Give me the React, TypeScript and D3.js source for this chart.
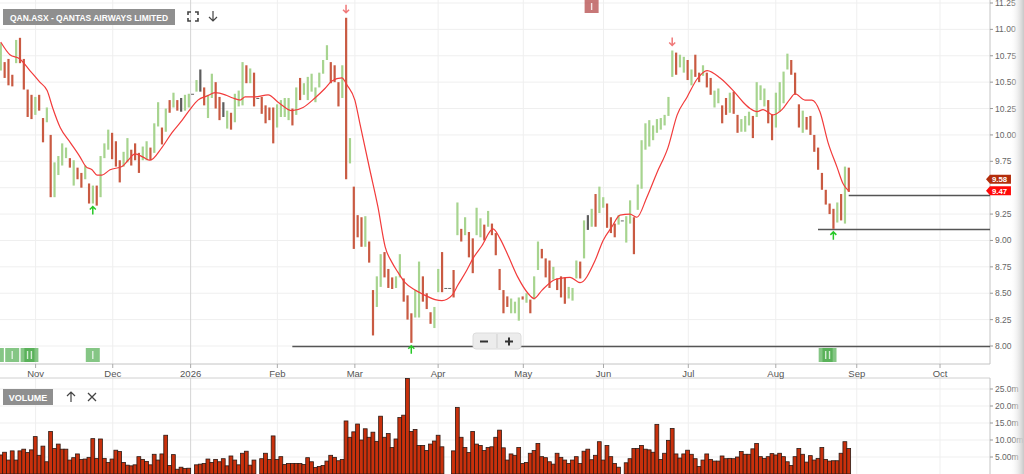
import React, { useEffect, useRef } from "react";
import * as d3 from "d3";

// one slot per trading day, null = no trade that day
const highs = [
  10.87, 10.69, 10.72, 10.57, 10.90, 10.92, 10.72, 10.43, 10.38, 10.36,
  10.38, 10.16, 10.26, 10.00, 9.74, 9.80, 9.92, 9.88, 9.78, 9.76,
  9.69, 9.64, 9.71, 9.54, 9.52, 9.52, 9.80, 9.92, 10.05, 10.02,
  9.94, 9.76, 9.84, 9.97, 9.86, 9.92, 9.83, 9.89, 9.94, 9.88,
  10.11, 10.31, 10.07, 10.25, 10.33, 10.40, 10.33, 10.35, 10.38, 10.39,
  10.39, 10.52, 10.62, 10.45, 10.38, 10.58, 10.50, 10.36, 10.31, 10.23,
  10.21, 10.39, 10.42, 10.69, 10.66, 10.63, 10.59, 10.35, 10.36, 10.28,
  10.26, 10.26, 10.29, 10.33, 10.35, 10.35, 10.25, 10.45, 10.54, 10.49,
  10.55, 10.58, 10.45, 10.59, 10.71, 10.85, 10.69, 10.66, 10.50, 10.66,
  11.11, 9.97, 9.51, 9.24, 9.22, 9.23, 8.99, 8.53, 8.66, 8.87,
  8.89, 8.73, 8.65, 8.66, 8.87, 8.64, 8.48, 8.31, 8.53, 8.80,
  8.66, 8.50, 8.32, 8.37, 8.73, 8.89, 8.55, 8.55, 8.72, 9.36,
  9.11, 9.22, 9.08, 9.02, 9.31, 9.21, 9.15, 9.28, 9.16, 9.07,
  8.73, 8.53, 8.47, 8.45, 8.42, 8.46, 8.47, 8.50, 8.44, 8.66,
  8.99, 8.92, 8.83, 8.81, 8.75, 8.64, 8.66, 8.65, 8.56, 8.55,
  8.81, 8.80, 9.19, 9.24, 9.30, 9.44, 9.51, 9.41, 9.35, 9.22,
  9.16, 9.24, 9.19, 9.23, 9.38, 9.22, 9.53, 9.95, 10.11, 10.14,
  10.09, 10.15, 10.16, 10.19, 10.36, 10.80, 10.78, 10.76, 10.74, 10.71,
  10.62, 10.76, 10.59, 10.66, 10.59, 10.54, 10.42, 10.44, 10.28, 10.35,
  10.40, 10.41, 10.19, 10.15, 10.18, 10.22, 10.18, 10.50, 10.47, 10.44,
  10.33, 10.19, 10.40, 10.50, 10.60, 10.77, 10.71, 10.59, 10.29, 10.23,
  10.17, 10.18, 10.00, 9.88, 9.64, 9.48, 9.35, 9.30, 9.36, 9.44,
  9.70, 9.69,
];

const lows = [
  10.61, 10.54, 10.47, 10.46, 10.68, 10.68, 10.43, 10.17, 10.15, 10.19,
  10.23, 9.93, 10.12, 9.41, 9.41, 9.62, 9.71, 9.78, 9.69, 9.52,
  9.58, 9.50, 9.58, 9.35, 9.35, 9.33, 9.41, 9.78, 9.86, 9.77,
  9.70, 9.55, 9.70, 9.74, 9.71, 9.76, 9.64, 9.76, 9.76, 9.76,
  9.83, 10.08, 9.91, 10.03, 10.21, 10.26, 10.23, 10.22, 10.23, 10.26,
  10.39, 10.41, 10.41, 10.28, 10.16, 10.35, 10.25, 10.14, 10.17, 10.06,
  10.05, 10.12, 10.27, 10.28, 10.49, 10.49, 10.27, 10.35, 10.20, 10.11,
  10.14, 9.92, 10.07, 10.17, 10.17, 10.14, 10.09, 10.19, 10.33, 10.38,
  10.33, 10.41, 10.31, 10.45, 10.58, 10.71, 10.49, 10.50, 10.27, 10.35,
  9.58, 9.73, 8.92, 9.03, 8.94, 8.94, 8.79, 8.10, 8.37, 8.56,
  8.65, 8.55, 8.54, 8.55, 8.65, 8.42, 8.25, 8.03, 8.27, 8.27,
  8.42, 8.35, 8.21, 8.17, 8.51, 8.51, 8.55, 8.55, 8.46, 9.05,
  8.99, 9.05, 8.84, 8.69, 9.05, 9.03, 9.00, 9.13, 9.05, 8.86,
  8.53, 8.31, 8.37, 8.31, 8.31, 8.24, 8.44, 8.41, 8.31, 8.44,
  8.72, 8.83, 8.65, 8.55, 8.63, 8.53, 8.46, 8.40, 8.45, 8.43,
  8.64, 8.64, 8.83, 9.10, 9.13, 9.13, 9.26, 9.31, 9.12, 9.07,
  9.03, 9.15, 9.19, 8.98, 9.16, 8.87, 9.29, 9.49, 9.86, 9.89,
  9.95, 10.02, 10.05, 10.09, 10.18, 10.55, 10.57, 10.64, 10.59, 10.52,
  10.47, 10.55, 10.50, 10.56, 10.45, 10.38, 10.26, 10.30, 10.11, 10.19,
  10.21, 10.20, 10.02, 10.03, 10.03, 10.09, 9.97, 10.17, 10.33, 10.27,
  10.11, 9.95, 10.07, 10.22, 10.30, 10.62, 10.57, 10.38, 10.07, 10.02,
  10.05, 10.00, 9.84, 9.67, 9.48, 9.34, 9.25, 9.11, 9.17, 9.19,
  9.16, 9.46,
];

// 1 up, -1 down, 0 unchanged, null no trade
const dirs = [
  1, -1, -1, -1, 1, -1, -1, -1, -1, 1,
  -1, -1, 1, -1, 1, 1, 1, 1, -1, 1,
  -1, -1, 1, -1, 1, -1, 1, 1, 1, -1,
  -1, -1, 1, 1, -1, -1, -1, 1, 1, -1,
  1, 1, -1, 1, -1, 1, -1, 0, 1, 1,
  null, 1, 0, -1, 1, 1, -1, -1, 0, 1,
  -1, 1, 1, 1, -1, 1, -1, null, -1, -1,
  -1, -1, 1, 1, 1, 1, -1, 1, -1, 1,
  1, 1, 1, 1, 1, 1, -1, -1, -1, 1,
  -1, 1, -1, -1, -1, 1, -1, -1, 1, 1,
  -1, -1, -1, 1, 1, -1, -1, -1, 1, 1,
  -1, -1, -1, 1, 1, -1, null, null, -1, 1,
  -1, 1, -1, -1, 1, 1, -1, 1, -1, -1,
  -1, -1, -1, 1, 1, 1, -1, 1, -1, 1,
  1, -1, -1, -1, 1, -1, -1, -1, 1, 1,
  1, -1, 1, 0, 1, -1, 1, 1, -1, -1,
  -1, 1, null, 1, 1, -1, 1, 1, 1, 1,
  1, 1, 1, 1, 1, 1, -1, 1, 1, -1,
  1, -1, -1, 1, -1, -1, 1, 1, -1, -1,
  1, -1, -1, 1, 1, 1, -1, 1, 1, 1,
  -1, -1, 1, 1, 1, 1, -1, -1, -1, 1,
  -1, -1, -1, -1, -1, -1, -1, -1, 1, -1,
  1, -1,
];

// millions of shares
const volumes = [
  5.6, 6.4, 4.1, 6.8, 4.1, 6.8, 7.3, 6.3, 7.1, 11.0,
  5.5, 8.2, 3.6, 12.5, 7.5, 8.8, 7.3, 7.3, 4.1, 4.8,
  5.9, 4.3, 4.4, 4.9, 10.4, 4.6, 10.3, 4.6, 3.4, 4.4,
  7.0, 6.6, 3.4, 2.6, 2.4, 2.7, 5.1, 4.3, 3.7, 2.7,
  5.8, 4.1, 5.9, 11.4, 2.5, 5.7, 1.4, 2.0, 1.6, 1.7,
  null, 2.7, 2.9, 3.1, 4.4, 3.4, 4.3, 3.6, 4.5, 2.4,
  5.3, 4.1, 2.7, 6.1, 6.7, 2.6, 4.1, null, 4.5, 6.1,
  4.3, 11.2, 4.3, 5.1, 2.8, 3.1, 3.1, 3.1, 3.1, 2.8,
  4.8, 3.6, 1.9, 2.2, 2.5, 3.8, 5.5, 4.9, 3.9, 4.3,
  15.6, 10.8, 12.4, 14.7, 10.0, 13.3, 10.8, 12.3, 9.6, 17.0,
  10.8, 11.9, 7.8, 10.3, 16.6, 17.3, 28.1, 12.5, 13.1, 8.4,
  8.4, 6.9, 8.8, 9.7, 11.4, 8.0, null, null, 6.8, 19.6,
  10.8, 7.8, 6.3, 12.5, 8.8, 8.4, 6.9, 7.8, 8.0, 10.8,
  12.9, 7.7, 4.1, 5.9, 5.5, 7.8, 3.1, 3.4, 6.1, 6.9,
  9.0, 5.1, 4.8, 3.6, 2.9, 6.1, 4.9, 4.1, 3.1, 4.1,
  5.1, 3.1, 6.7, 7.3, 4.2, 5.5, 9.5, 4.1, 8.4, 5.1,
  3.1, 2.0, null, 3.3, 4.5, 7.5, 7.5, 8.4, 7.3, 7.1,
  6.4, 14.6, 4.3, 6.1, 9.9, 13.4, 5.9, 4.7, 5.9, 7.0,
  5.8, 4.5, 2.2, 4.1, 5.9, 4.3, 3.8, 3.8, 5.3, 4.5,
  4.6, 4.5, 5.0, 6.6, 5.8, 5.8, 7.4, 9.0, 5.1, 4.6,
  5.1, 6.0, 5.6, 6.1, 5.1, 3.6, 2.5, 5.1, 7.5, 5.8,
  3.5, 5.4, 4.1, 4.6, 7.8, 4.3, 3.8, 3.9, 3.9, 6.1,
  9.5, 7.5,
];

// moving average line
const maIndex = [
  0, 2.4, 5, 7.6, 10.2, 12.1, 13.6, 15.5, 18.1, 20.7, 22.2, 23.8, 25.1, 26.4, 28.5,
  31.6, 33.2, 35, 37.1, 38.9, 42, 44.6, 47.3, 49.3, 51.4, 53.8, 55.9, 58.5, 60.5,
  62.4, 63.7, 66.3, 69.7, 72.3, 75.9, 78.8, 81.9, 84.5, 86.3, 88.9, 90.3, 92.3,
  93.6, 96.2, 98.3, 100.2, 102, 103.5, 105.4, 108, 110.6, 113.2, 115, 117.6, 119.2,
  121.5, 123.1, 125.4, 128.3, 130.1, 132.2, 134.8, 137.4, 139, 141.1, 144.5, 145.8,
  148.4, 151, 154.9, 157, 159.3, 161.4, 164, 165.8, 168.4, 171, 173.9, 176.3, 178.9,
  181.5, 184.1, 187.5, 190.9, 193.5, 195.3, 197.1, 198.7, 201.3, 203.6, 205.7, 207,
  209.6, 211.4, 213.5, 215.6, 218, 219.5, 221,
];
const maValue = [
  10.88, 10.76, 10.72, 10.61, 10.50, 10.42, 10.25, 10.07, 9.93, 9.79, 9.70, 9.67, 9.62, 9.62, 9.67,
  9.70, 9.76, 9.82, 9.79, 9.76, 9.88, 10.02, 10.14, 10.24, 10.33, 10.37, 10.40, 10.38, 10.35,
  10.33, 10.36, 10.36, 10.38, 10.31, 10.23, 10.26, 10.35, 10.44, 10.51, 10.54, 10.47, 10.33,
  10.11, 9.67, 9.32, 8.94, 8.79, 8.70, 8.60, 8.53, 8.48, 8.44, 8.43, 8.48, 8.58,
  8.72, 8.83, 8.95, 9.11, 9.02, 8.86, 8.65, 8.50, 8.45, 8.53, 8.63, 8.64,
  8.65, 8.60, 8.81, 9.00, 9.13, 9.24, 9.25, 9.22, 9.41, 9.64, 9.88, 10.19, 10.36,
  10.53, 10.61, 10.54, 10.42, 10.31, 10.25, 10.22, 10.24, 10.19, 10.24, 10.34, 10.39,
  10.33, 10.33, 10.22, 9.93, 9.69, 9.54, 9.47,
];

const lastClose = 9.58;

const monthLabels = ["Nov", "Dec", "2026", "Feb", "Mar", "Apr", "May", "Jun", "Jul", "Aug", "Sep", "Oct"];
const monthIndex = [9.1, 29.2, 49.5, 72.1, 92.3, 114, 136.2, 157.1, 179.2, 202, 223.1, 244.8];

const priceTicks = [8, 8.25, 8.5, 8.75, 9, 9.25, 9.5, 9.75, 10, 10.25, 10.5, 10.75, 11, 11.25];
const volumeTicks = [5, 10, 15, 20, 25];
const volumeTickLabels = ["5.00m", "10.00m", "15.0m", "20.0m", "25.0m"];

const upSignals = [24, 107, 217];
const downSignals = [90, 175];
const levelFrom = [76, 213, 221];
const levelPrice = [8.0, 9.11, 9.43];
const greenMarkers = [-1, 3, 7, 8, 24, 215, 216];
const redMarkers = [154];

const FONT = "'Liberation Sans', Arial, sans-serif";

const App = () => {
  const svgRef = useRef(null);

  useEffect(() => {
    const svg = d3.select(svgRef.current);
    svg.selectAll("*").remove();

    const axisX = 990;
    const priceBottom = 364;
    const volTop = 378;

    const x = d3.scaleLinear().domain([0, 221]).range([0.7, 848.7]);
    const y = d3.scaleLinear().domain([8, 11.25]).range([346, 3]);
    const yv = d3.scaleLinear().domain([0, 25]).range([474, 389]);
    const step = x(1) - x(0);

    const lastMa = maValue[maValue.length - 1];
    const tagValues = [lastClose, lastMa];

    const defs = svg.append("defs");
    const grad = defs.append("linearGradient").attr("id", "edge").attr("x1", 0).attr("x2", 1);
    grad.append("stop").attr("offset", 0).attr("stop-color", "#fff").attr("stop-opacity", 0);
    grad.append("stop").attr("offset", 1).attr("stop-color", "#c8c8c8").attr("stop-opacity", 1);
    defs.append("clipPath").attr("id", "pane").append("rect")
      .attr("x", 0).attr("y", 0).attr("width", axisX).attr("height", priceBottom);
    defs.append("clipPath").attr("id", "vpane").append("rect")
      .attr("x", 0).attr("y", volTop).attr("width", axisX).attr("height", 474 - volTop);

    svg.append("rect").attr("width", 1024).attr("height", 474).attr("fill", "#fff");

    // grid
    const grid = svg.append("g");
    grid.selectAll(".hg").data(priceTicks).join("line")
      .attr("class", "hg")
      .attr("x1", 0).attr("x2", axisX).attr("y1", (d) => y(d)).attr("y2", (d) => y(d))
      .attr("stroke", "#efefef");
    grid.selectAll(".vg").data(volumeTicks).join("line")
      .attr("class", "vg")
      .attr("x1", 0).attr("x2", axisX).attr("y1", (d) => yv(d)).attr("y2", (d) => yv(d))
      .attr("stroke", "#efefef");
    monthIndex.forEach((m, i) => {
      const c = monthLabels[i] === "2026" ? "#d4d4d4" : "#efefef";
      grid.append("line").attr("x1", x(m)).attr("x2", x(m)).attr("y1", 0).attr("y2", priceBottom).attr("stroke", c);
      grid.append("line").attr("x1", x(m)).attr("x2", x(m)).attr("y1", volTop).attr("y2", 474).attr("stroke", c);
    });

    // pane borders
    svg.append("line").attr("x1", 0).attr("x2", axisX).attr("y1", priceBottom).attr("y2", priceBottom).attr("stroke", "#c4c4c4");
    svg.append("line").attr("x1", 0).attr("x2", axisX).attr("y1", volTop).attr("y2", volTop).attr("stroke", "#d0d0d0");
    svg.append("line").attr("x1", axisX).attr("x2", axisX).attr("y1", 0).attr("y2", priceBottom).attr("stroke", "#c4c4c4");
    svg.append("line").attr("x1", axisX).attr("x2", axisX).attr("y1", volTop).attr("y2", 474).attr("stroke", "#c4c4c4");

    // support / resistance levels
    levelPrice.forEach((p, i) => {
      svg.append("line")
        .attr("x1", x(levelFrom[i])).attr("x2", axisX)
        .attr("y1", Math.round(y(p)) + 0.5).attr("y2", Math.round(y(p)) + 0.5)
        .attr("stroke", "#555").attr("stroke-width", 1.4);
    });

    // price bars
    const bars = d3.range(highs.length);
    const pg = svg.append("g").attr("clip-path", "url(#pane)");
    pg.selectAll(".bar").data(bars.filter((i) => dirs[i] !== null)).join("rect")
      .attr("class", "bar")
      .attr("x", (i) => x(i) - 1)
      .attr("width", 2.2)
      .attr("y", (i) => y(highs[i]))
      .attr("height", (i) => Math.max(1, y(lows[i]) - y(highs[i])))
      .attr("fill", (i) => (dirs[i] > 0 ? "#a7d48f" : dirs[i] < 0 ? "#c95a42" : "#5d5d5d"));
    pg.selectAll(".nt").data(bars.filter((i) => dirs[i] === null)).join("rect")
      .attr("class", "nt")
      .attr("x", (i) => x(i) - 1.5).attr("width", 3)
      .attr("y", (i) => y(highs[i])).attr("height", 1)
      .attr("fill", "#666");

    // moving average
    const maLine = d3.line<number>()
      .x((i) => x(maIndex[i]))
      .y((i) => y(maValue[i]))
      .curve(d3.curveMonotoneX);
    pg.append("path").attr("d", maLine(d3.range(maIndex.length)))
      .attr("fill", "none").attr("stroke", "#f23b3b").attr("stroke-width", 1.2);

    // signal arrows
    const arrow = (cx, cy, up, color) => {
      const d = up
        ? `M${cx},${cy + 4}V${cy - 4}M${cx - 3},${cy - 1}L${cx},${cy - 4}L${cx + 3},${cy - 1}`
        : `M${cx},${cy - 4}V${cy + 4}M${cx - 3},${cy + 1}L${cx},${cy + 4}L${cx + 3},${cy + 1}`;
      svg.append("path").attr("d", d).attr("fill", "none").attr("stroke", color).attr("stroke-width", 1.5);
    };
    upSignals.forEach((i) => arrow(x(i), y(lows[i]) + 7, true, "#28c828"));
    downSignals.forEach((i) => arrow(x(i), y(highs[i]) - 9, false, "#f07878"));

    // event markers
    greenMarkers.forEach((i) => {
      svg.append("rect").attr("x", x(i) - 7).attr("y", 348).attr("width", 14).attr("height", 14)
        .attr("fill", "#43a843").attr("fill-opacity", 0.65);
    });
    greenMarkers.forEach((i) => {
      svg.append("rect").attr("x", x(i) - 0.7).attr("y", 351).attr("width", 1.4).attr("height", 8)
        .attr("fill", "#fff").attr("fill-opacity", 0.75);
    });
    redMarkers.forEach((i) => {
      svg.append("rect").attr("x", x(i) - 7).attr("y", 0).attr("width", 14).attr("height", 13)
        .attr("fill", "#b44a4a").attr("fill-opacity", 0.75);
      svg.append("rect").attr("x", x(i) - 0.7).attr("y", 3).attr("width", 1.4).attr("height", 7)
        .attr("fill", "#fff").attr("fill-opacity", 0.8);
    });

    // zoom control
    const zc = svg.append("g");
    zc.append("rect").attr("x", 473).attr("y", 333).attr("width", 48).attr("height", 16).attr("rx", 3)
      .attr("fill", "#ececec").attr("stroke", "#dcdcdc");
    zc.append("line").attr("x1", 497).attr("x2", 497).attr("y1", 334).attr("y2", 348).attr("stroke", "#cfcfcf");
    zc.append("path").attr("d", "M480,341.5H488M505,341.5H513M509,337.5V345.5")
      .attr("stroke", "#333").attr("stroke-width", 2);

    // volume bars
    const vg = svg.append("g").attr("clip-path", "url(#vpane)");
    vg.selectAll(".vol").data(bars.filter((i) => volumes[i] !== null)).join("rect")
      .attr("class", "vol")
      .attr("x", (i) => x(i) - step / 2)
      .attr("width", step)
      .attr("y", (i) => yv(volumes[i]))
      .attr("height", (i) => yv(0) - yv(volumes[i]))
      .attr("fill", "#c9300c").attr("stroke", "#2b1a14").attr("stroke-width", 0.8);

    // x axis
    monthIndex.forEach((m, i) => {
      svg.append("line").attr("x1", x(m)).attr("x2", x(m)).attr("y1", priceBottom).attr("y2", priceBottom + 4).attr("stroke", "#aaa");
      svg.append("text").attr("x", x(m)).attr("y", 376.5).attr("text-anchor", "middle")
        .attr("font-family", FONT).attr("font-size", 9.5).attr("fill", "#555").text(monthLabels[i]);
    });

    // right axes (labels hidden behind the value tags are skipped)
    priceTicks.forEach((p) => {
      svg.append("line").attr("x1", axisX).attr("x2", axisX + 3).attr("y1", y(p)).attr("y2", y(p)).attr("stroke", "#999");
      const covered = tagValues.some((t) => Math.abs(y(t) - y(p)) < 9);
      if (covered) return;
      svg.append("text").attr("x", axisX + 5).attr("y", y(p) + 3).attr("font-family", FONT).attr("font-size", 8.5)
        .attr("fill", "#666").text(p.toFixed(2));
    });
    volumeTicks.forEach((v, i) => {
      svg.append("line").attr("x1", axisX).attr("x2", axisX + 3).attr("y1", yv(v)).attr("y2", yv(v)).attr("stroke", "#999");
      svg.append("text").attr("x", axisX + 5).attr("y", yv(v) + 3).attr("font-family", FONT).attr("font-size", 8.5)
        .attr("fill", "#666").text(volumeTickLabels[i]);
    });

    // value tags
    const tag = (val, color) => {
      const ty = y(val);
      svg.append("path")
        .attr("d", `M${axisX - 4},${ty}L${axisX},${ty - 4.5}H${axisX + 21}V${ty + 4.5}H${axisX}Z`)
        .attr("fill", color);
      svg.append("text").attr("x", axisX + 2).attr("y", ty + 2.8).attr("font-family", FONT).attr("font-size", 7.8)
        .attr("font-weight", "bold").attr("fill", "#fff").text(val.toFixed(2));
    };
    tag(lastClose, "#b32d0c");
    tag(lastMa, "#ff0a0a");

    // title and header icons
    svg.append("rect").attr("x", 3).attr("y", 9).attr("width", 172).attr("height", 16).attr("fill", "#8f8f8f");
    svg.append("text").attr("x", 10).attr("y", 20.8).attr("font-family", FONT).attr("font-size", 9.5)
      .attr("font-weight", "bold").attr("fill", "#fff")
      .attr("textLength", 158).attr("lengthAdjust", "spacingAndGlyphs")
      .text("QAN.ASX - QANTAS AIRWAYS LIMITED");
    svg.append("path")
      .attr("d", "M188,15V12H191M195,12H198V15M198,18V21H195M191,21H188V18")
      .attr("fill", "none").attr("stroke", "#444").attr("stroke-width", 1.6);
    svg.append("path").attr("d", "M213,11V21M209,17L213,21L217,17")
      .attr("fill", "none").attr("stroke", "#444").attr("stroke-width", 1.2);

    svg.append("rect").attr("x", 3).attr("y", 389).attr("width", 50).attr("height", 16).attr("fill", "#8f8f8f");
    svg.append("text").attr("x", 28).attr("y", 400.5).attr("text-anchor", "middle").attr("font-family", FONT)
      .attr("font-size", 9).attr("font-weight", "bold").attr("fill", "#fff").text("VOLUME");
    svg.append("path").attr("d", "M71,402V392M67,396L71,392L75,396")
      .attr("fill", "none").attr("stroke", "#444").attr("stroke-width", 1.2);
    svg.append("path").attr("d", "M88,393L96,401M96,393L88,401")
      .attr("fill", "none").attr("stroke", "#444").attr("stroke-width", 1.3);

    svg.append("rect").attr("x", 1010).attr("y", 0).attr("width", 14).attr("height", 474).attr("fill", "url(#edge)");
  }, []);

  return (
    <div style={{ position: "absolute", left: 0, top: 0, width: 1024, height: 474 }}>
      <svg ref={svgRef} width={1024} height={474} style={{ display: "block" }} />
    </div>
  );
};

export default App;
